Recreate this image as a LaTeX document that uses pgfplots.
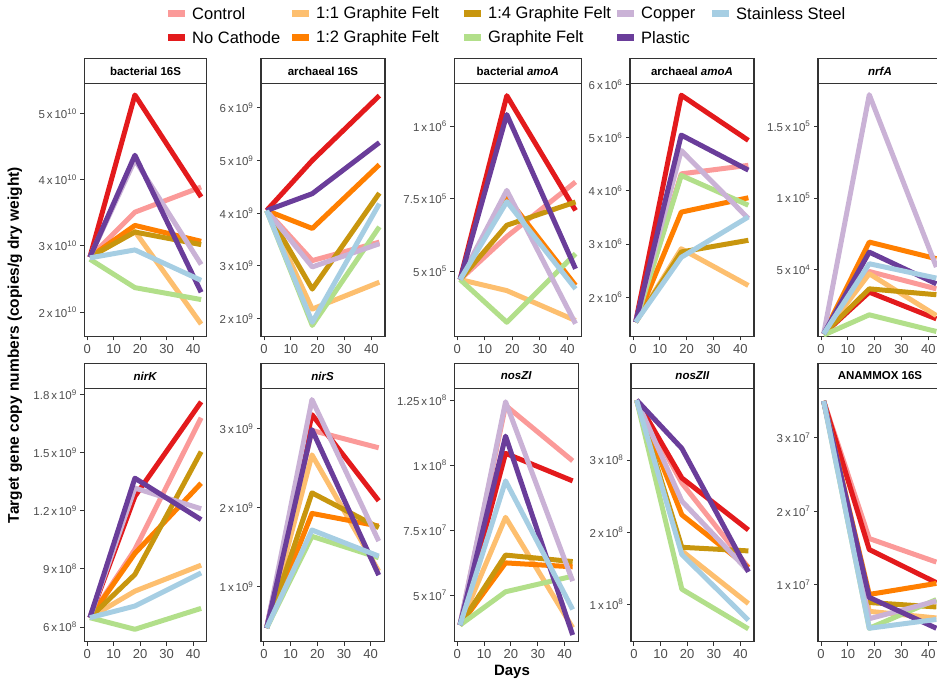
\documentclass[border=0pt]{standalone}
\usepackage{pgfplots}
\pgfplotsset{compat=1.18}
\usepackage{fontspec}
\setmainfont{Liberation Sans}
\definecolor{cCtl}{HTML}{FB9A99}
\definecolor{cNoC}{HTML}{E31A1C}
\definecolor{cGa}{HTML}{FDBF6F}
\definecolor{cGb}{HTML}{FF7F00}
\definecolor{cGc}{HTML}{C8960E}
\definecolor{cGF}{HTML}{B2DF8A}
\definecolor{cCu}{HTML}{CAB2D6}
\definecolor{cPl}{HTML}{6A3D9A}
\definecolor{cSS}{HTML}{A6CEE3}
\definecolor{frame}{HTML}{333333}
\definecolor{tickgray}{HTML}{4D4D4D}
\newcommand{\ser}[4]{\addplot[#1] coordinates {(1,#2) (18,#3) (43,#4)};}
\newcommand{\sx}[2]{#1\,x\,10\textsuperscript{#2}}
\pgfplotsset{pan/.style={
  scale only axis, height=253pt,
  xmin=-1.1, xmax=45.1, xtick={0,10,20,30,40},
  /pgf/number format/assume math mode=true,
  tick pos=left, tick align=outside, major tick length=4pt,
  axis line style={draw=frame, line width=1.3pt},
  tick style={draw=frame, line width=0.9pt},
  yticklabel style={font=\fontsize{11.5}{12}\selectfont, text=tickgray},
  xticklabel style={font=\fontsize{13}{14}\selectfont, text=tickgray},
  every axis plot/.append style={line width=5pt, line join=round},
}}
\tikzset{strip/.style={draw=frame, line width=1.3pt, fill=white},
  stript/.style={font=\bfseries\fontsize{11.5}{12}\selectfont}}
\newcommand{\strip}[2]{\draw[strip] (#1.north west) rectangle ([yshift=25pt]#1.north east);
  \path (#1.north west) -- ([yshift=25pt]#1.north east) node[midway, stript] {#2};}
\newcommand{\lkey}[4]{\draw[#3, line width=7pt] (#1pt,-#2pt) -- ++(17pt,0);
  \node[anchor=west, inner sep=0pt, font=\fontsize{16.5}{18}\selectfont] at (#1pt+24pt,-#2pt) {#4};}
\begin{document}
\begin{tikzpicture}
\useasboundingbox (0,0) rectangle (937pt,-684pt);
\clip (0,0) rectangle (937pt,-684pt);
% legend
\lkey{168}{14}{cCtl}{Control}
\lkey{168}{38}{cNoC}{No Cathode}
\lkey{292}{14}{cGa}{1:1 Graphite Felt}
\lkey{292}{38}{cGb}{1:2 Graphite Felt}
\lkey{464}{14}{cGc}{1:4 Graphite Felt}
\lkey{464}{38}{cGF}{Graphite Felt}
\lkey{617}{14}{cCu}{Copper}
\lkey{617}{38}{cPl}{Plastic}
\lkey{712}{14}{cSS}{Stainless Steel}
% ---------------- row 1
\begin{axis}[pan, name=a1, at={(84.3pt,-83.5pt)}, anchor=north west, width=122.4pt,
  ymin=1.632, ymax=5.454, ytick={2,3,4,5},
  yticklabels={\sx{2}{10},\sx{3}{10},\sx{4}{10},\sx{5}{10}}]
\ser{cCtl}{2.83}{3.51}{3.89}
\ser{cNoC}{2.83}{5.28}{3.74}
\ser{cGa}{2.83}{3.22}{1.82}
\ser{cGb}{2.83}{3.31}{3.07}
\ser{cGc}{2.83}{3.21}{3.02}
\ser{cGF}{2.80}{2.37}{2.19}
\ser{cCu}{2.83}{4.30}{2.72}
\ser{cPl}{2.83}{4.37}{2.30}
\ser{cSS}{2.82}{2.94}{2.48}
\end{axis}
\strip{a1}{bacterial 16S}
\begin{axis}[pan, name=a2, at={(261pt,-83.5pt)}, anchor=north west, width=124pt,
  ymin=1.66, ymax=6.46, ytick={2,3,4,5,6},
  yticklabels={\sx{2}{9},\sx{3}{9},\sx{4}{9},\sx{5}{9},\sx{6}{9}}]
\ser{cCtl}{4.05}{3.10}{3.45}
\ser{cNoC}{4.05}{5.00}{6.23}
\ser{cGa}{4.05}{2.18}{2.69}
\ser{cGb}{4.05}{3.71}{4.92}
\ser{cGc}{4.05}{2.56}{4.38}
\ser{cGF}{4.05}{1.87}{3.74}
\ser{cCu}{4.05}{2.98}{3.42}
\ser{cPl}{4.05}{4.37}{5.34}
\ser{cSS}{4.05}{1.93}{4.18}
\end{axis}
\strip{a2}{archaeal 16S}
\begin{axis}[pan, name=a3, at={(454.3pt,-83.5pt)}, anchor=north west, width=127pt,
  ymin=2.76, ymax=11.47, ytick={5,7.5,10},
  yticklabels={\sx{5}{5},\sx{7.5}{5},\sx{1}{6}}]
\ser{cCtl}{4.72}{6.20}{8.08}
\ser{cNoC}{4.72}{11.05}{7.10}
\ser{cGa}{4.72}{4.34}{3.31}
\ser{cGb}{4.72}{7.56}{4.52}
\ser{cGc}{4.72}{6.59}{7.39}
\ser{cGF}{4.72}{3.25}{5.61}
\ser{cCu}{4.72}{7.79}{3.20}
\ser{cPl}{4.72}{10.40}{5.09}
\ser{cSS}{4.72}{7.40}{4.40}
\end{axis}
\strip{a3}{bacterial \textit{amoA}}
\begin{axis}[pan, name=a4, at={(630pt,-83.5pt)}, anchor=north west, width=124pt,
  ymin=1.26, ymax=6.02, ytick={2,3,4,5,6},
  yticklabels={\sx{2}{6},\sx{3}{6},\sx{4}{6},\sx{5}{6},\sx{6}{6}}]
\ser{cCtl}{1.53}{4.32}{4.48}
\ser{cNoC}{1.53}{5.80}{4.95}
\ser{cGa}{1.53}{2.91}{2.22}
\ser{cGb}{1.53}{3.60}{3.87}
\ser{cGc}{1.53}{2.85}{3.07}
\ser{cGF}{1.53}{4.29}{3.73}
\ser{cCu}{1.53}{4.76}{3.48}
\ser{cPl}{1.53}{5.05}{4.39}
\ser{cSS}{1.53}{2.75}{3.51}
\end{axis}
\strip{a4}{archaeal \textit{amoA}}
\begin{axis}[pan, name=a5, at={(818pt,-83.5pt)}, anchor=north west, width=124pt,
  ymin=0.35, ymax=17.98, ytick={5,10,15},
  yticklabels={\sx{5}{4},\sx{1}{5},\sx{1.5}{5}}]
\ser{cCtl}{0.53}{4.88}{3.67}
\ser{cNoC}{0.53}{3.44}{1.58}
\ser{cGa}{0.53}{4.72}{1.81}
\ser{cGb}{0.53}{6.93}{5.77}
\ser{cGc}{0.53}{3.67}{3.26}
\ser{cGF}{0.45}{1.86}{0.70}
\ser{cCu}{0.53}{17.20}{5.19}
\ser{cPl}{0.53}{6.23}{4.02}
\ser{cSS}{0.53}{5.42}{4.42}
\end{axis}
\strip{a5}{\textit{nrfA}}
% ---------------- row 2
\begin{axis}[pan, name=b1, at={(84.3pt,-388.5pt)}, anchor=north west, width=122.4pt,
  ymin=5.25, ymax=18.31, ytick={6,9,12,15,18},
  yticklabels={\sx{6}{8},\sx{9}{8},\sx{1.2}{9},\sx{1.5}{9},\sx{1.8}{9}}]
\ser{cCtl}{6.48}{10.00}{16.80}
\ser{cNoC}{6.48}{12.74}{17.62}
\ser{cGa}{6.48}{7.85}{9.19}
\ser{cGb}{6.48}{9.80}{13.42}
\ser{cGc}{6.48}{8.71}{15.05}
\ser{cGF}{6.48}{5.88}{6.96}
\ser{cCu}{6.48}{13.17}{12.10}
\ser{cPl}{6.48}{13.68}{11.54}
\ser{cSS}{6.48}{7.08}{8.79}
\end{axis}
\strip{b1}{\textit{nirK}}
\begin{axis}[pan, name=b2, at={(261pt,-388.5pt)}, anchor=north west, width=123.3pt,
  ymin=0.31, ymax=3.51, ytick={1,2,3},
  yticklabels={\sx{1}{9},\sx{2}{9},\sx{3}{9}}]
\ser{cCtl}{0.48}{2.98}{2.76}
\ser{cNoC}{0.48}{3.18}{2.09}
\ser{cGa}{0.48}{2.67}{1.20}
\ser{cGb}{0.48}{1.93}{1.77}
\ser{cGc}{0.48}{2.19}{1.75}
\ser{cGF}{0.48}{1.64}{1.37}
\ser{cCu}{0.48}{3.37}{1.58}
\ser{cPl}{0.48}{2.99}{1.15}
\ser{cSS}{0.48}{1.72}{1.39}
\end{axis}
\strip{b2}{\textit{nirS}}
\begin{axis}[pan, name=b3, at={(454.3pt,-388.5pt)}, anchor=north west, width=124pt,
  ymin=3.23, ymax=12.95, ytick={5,7.5,10,12.5},
  yticklabels={\sx{5}{7},\sx{7.5}{7},\sx{1}{8},\sx{1.25}{8}}]
\ser{cCtl}{3.86}{12.30}{10.17}
\ser{cNoC}{3.86}{10.46}{9.40}
\ser{cGa}{3.86}{8.00}{3.76}
\ser{cGb}{3.86}{6.25}{6.10}
\ser{cGc}{3.86}{6.55}{6.30}
\ser{cGF}{3.86}{5.14}{5.74}
\ser{cCu}{3.86}{12.44}{5.55}
\ser{cPl}{3.86}{11.12}{3.48}
\ser{cSS}{3.86}{9.40}{4.46}
\end{axis}
\strip{b3}{\textit{nosZI}}
\begin{axis}[pan, name=b4, at={(631pt,-388.5pt)}, anchor=north west, width=123pt,
  ymin=0.485, ymax=3.99, ytick={1,2,3},
  yticklabels={\sx{1}{8},\sx{2}{8},\sx{3}{8}}]
\ser{cCtl}{3.83}{2.68}{1.51}
\ser{cNoC}{3.83}{2.75}{2.03}
\ser{cGa}{3.83}{1.74}{1.01}
\ser{cGb}{3.83}{2.24}{1.51}
\ser{cGc}{3.83}{1.79}{1.74}
\ser{cGF}{3.83}{1.21}{0.66}
\ser{cCu}{3.83}{2.43}{1.46}
\ser{cPl}{3.83}{3.16}{1.45}
\ser{cSS}{3.83}{1.69}{0.78}
\end{axis}
\strip{b4}{\textit{nosZII}}
\begin{axis}[pan, name=b5, at={(818pt,-388.5pt)}, anchor=north west, width=124pt,
  ymin=0.23, ymax=3.67, ytick={1,2,3},
  yticklabels={\sx{1}{7},\sx{2}{7},\sx{3}{7}}]
\ser{cCtl}{3.50}{1.63}{1.31}
\ser{cNoC}{3.50}{1.48}{1.03}
\ser{cGa}{3.50}{0.64}{0.55}
\ser{cGb}{3.50}{0.87}{1.02}
\ser{cGc}{3.50}{0.76}{0.70}
\ser{cGF}{3.50}{0.41}{0.80}
\ser{cCu}{3.50}{0.54}{0.78}
\ser{cPl}{3.50}{0.83}{0.41}
\ser{cSS}{3.50}{0.41}{0.53}
\end{axis}
\strip{b5}{ANAMMOX 16S}
% axis titles
\node[rotate=90, font=\bfseries\fontsize{15.5}{17}\selectfont] at (15pt,-345pt) {Target gene copy numbers (copies/g dry weight)};
\node[font=\bfseries\fontsize{15}{17}\selectfont] at (512pt,-672pt) {Days};
\end{tikzpicture}
\end{document}
